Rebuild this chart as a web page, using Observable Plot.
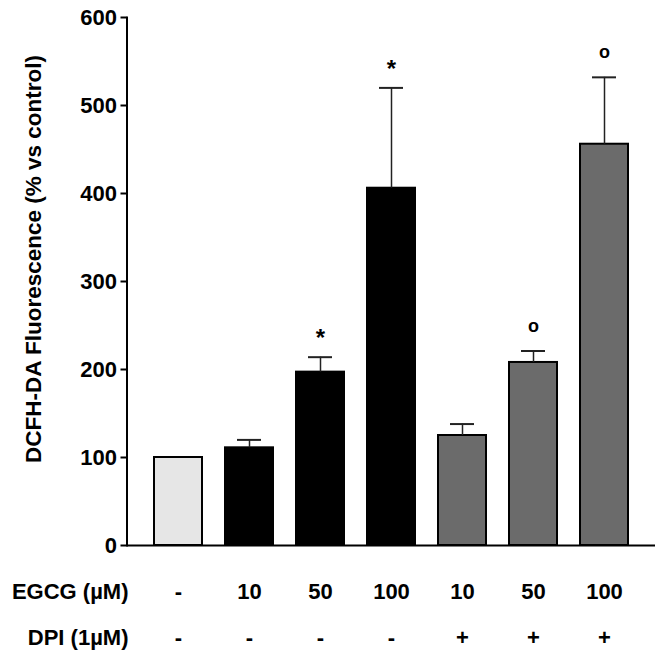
<!DOCTYPE html>
<html>
<head>
<meta charset="utf-8">
<script src="https://cdn.jsdelivr.net/npm/d3@7"></script>
<script src="https://cdn.jsdelivr.net/npm/@observablehq/plot@0.6"></script>
<style>
  html, body { margin: 0; padding: 0; background: #fff; }
  svg { font-weight: bold; }
</style>
</head>
<body>
<div id="chart"></div>
<script>
const IDS = ["c1", "c2", "c3", "c4", "c5", "c6", "c7"];
const EGCG = ["-", "10", "50", "100", "10", "50", "100"];
const DPI = ["-", "-", "-", "-", "+", "+", "+"];
const GROUP = ["control", "EGCG", "EGCG", "EGCG", "EGCG+DPI", "EGCG+DPI", "EGCG+DPI"];
const MEAN = [100, 111, 197, 406, 125, 208, 456];
const SEM = [0, 9, 17, 114, 13, 13, 76];
const SIG = ["", "", "*", "*", "", "o", "o"];
const Y_TICKS = [0, 100, 200, 300, 400, 500, 600];
const Y_TITLE = "DCFH-DA Fluorescence (% vs control)";
const ROW_LABELS = ["EGCG (µM)", "DPI (1µM)"];

const rows = IDS.map((id, i) => ({
  id, egcg: EGCG[i], dpi: DPI[i], group: GROUP[i],
  mean: MEAN[i], sem: SEM[i], sig: SIG[i]
}));
const withErr = rows.filter(d => d.sem > 0);
const stars = rows.filter(d => d.sig === "*");
const circles = rows.filter(d => d.sig === "o");

const font = "Liberation Sans, Arial, Helvetica, sans-serif";

const chart = Plot.plot({
  width: 664,
  height: 667,
  marginTop: 17,
  marginBottom: 122,
  marginLeft: 126.5,
  marginRight: 9,
  style: { fontFamily: font, fontSize: "22px", background: "white", color: "black" },
  x: { domain: IDS, paddingInner: 0.33, paddingOuter: 0.336, axis: null },
  y: { domain: [0, 600], axis: null },
  color: { domain: ["control", "EGCG", "EGCG+DPI"], range: ["#e6e6e6", "#000000", "#6b6b6b"] },
  marks: [
    Plot.barY(rows, { x: "id", y: "mean", fill: "group", stroke: "black", strokeWidth: 2 }),
    Plot.ruleX(withErr, { x: "id", y1: "mean", y2: d => d.mean + d.sem, stroke: "#222", strokeWidth: 1.5 }),
    Plot.tickY(withErr, { x: "id", y: d => d.mean + d.sem, stroke: "#222", strokeWidth: 2, insetLeft: 12, insetRight: 12 }),
    Plot.text(stars, { x: "id", y: d => d.mean + d.sem, text: "sig", dy: -19, fontSize: 24, fontWeight: "bold", fill: "black" }),
    Plot.text(circles, { x: "id", y: d => d.mean + d.sem, text: "sig", dy: -25, fontSize: 18, fontWeight: "bold", fill: "black" }),
    Plot.axisY({ ticks: Y_TICKS, tickSize: 6, tickPadding: 4, strokeWidth: 2, fontSize: 22, label: null }),
    Plot.frame({ anchor: "left", strokeWidth: 2 }),
    Plot.ruleY([0], { strokeWidth: 2 }),
    Plot.text([Y_TITLE], { frameAnchor: "left", textAnchor: "middle", rotate: -90, dx: -93.5, dy: -22.5, fontSize: 22.5, fontWeight: "bold", fill: "black" }),
    Plot.text(rows, { x: "id", text: "egcg", frameAnchor: "bottom", dy: 53, fontSize: 22, fontWeight: "bold", fill: "black" }),
    Plot.text(rows, { x: "id", text: "dpi", frameAnchor: "bottom", dy: 99, fontSize: 22, fontWeight: "bold", fill: "black" }),
    Plot.text([ROW_LABELS[0]], { frameAnchor: "bottom-left", textAnchor: "end", dx: 1.5, dy: 53, fontSize: 22, fontWeight: "bold", fill: "black" }),
    Plot.text([ROW_LABELS[1]], { frameAnchor: "bottom-left", textAnchor: "end", dx: 1.5, dy: 99, fontSize: 22, fontWeight: "bold", fill: "black" })
  ]
});
document.getElementById("chart").appendChild(chart);
</script>
</body>
</html>
